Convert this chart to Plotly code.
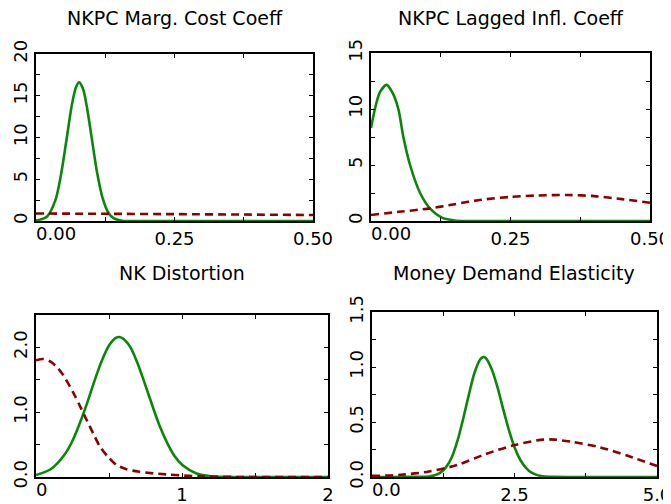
import plotly.graph_objects as go

# ---------------- data ----------------
titles = ["NKPC Marg. Cost Coeff", "NKPC Lagged Infl. Coeff",
          "NK Distortion", "Money Demand Elasticity"]

# Panel 1: NKPC marginal cost coefficient
p1_post_x = [0.000, 0.020, 0.035, 0.045, 0.055, 0.065, 0.072, 0.078, 0.085,
             0.092, 0.100, 0.110, 0.120, 0.130, 0.140, 0.155, 0.175, 0.300, 0.500]
p1_post_y = [0.04, 0.55, 2.5, 5.5, 9.7, 14.0, 16.0, 16.6, 15.8,
             13.6, 10.2, 5.9, 2.8, 1.07, 0.34, 0.04, 0.0, 0.0, 0.0]
p1_prior_x = [0.0, 0.125, 0.25, 0.375, 0.5]
p1_prior_y = [0.90, 0.86, 0.82, 0.77, 0.72]

# Panel 2: NKPC lagged inflation coefficient
p2_post_x = [0.000, 0.008, 0.016, 0.028, 0.038, 0.049, 0.058, 0.070, 0.088,
             0.106, 0.127, 0.150, 0.175, 0.300, 0.500]
p2_post_y = [8.3, 10.2, 11.5, 12.15, 11.5, 10.0, 7.5, 5.0, 2.5,
             1.1, 0.3, 0.05, 0.0, 0.0, 0.0]
p2_prior_x = [0.0, 0.05, 0.106, 0.15, 0.198, 0.25, 0.30, 0.353, 0.40, 0.45, 0.50]
p2_prior_y = [0.54, 0.82, 1.13, 1.50, 1.90, 2.15, 2.28, 2.32, 2.22, 1.95, 1.63]

# Panel 3: NK distortion
p3_post_x = [0.0, 0.1, 0.2, 0.25, 0.3, 0.35, 0.4, 0.45, 0.5, 0.55, 0.57, 0.6,
             0.65, 0.7, 0.75, 0.8, 0.85, 0.9, 0.95, 1.0, 1.1, 1.2, 1.4, 2.0]
p3_post_y = [0.03, 0.12, 0.36, 0.56, 0.83, 1.14, 1.48, 1.79, 2.03, 2.15, 2.16, 2.13,
             1.99, 1.73, 1.41, 1.08, 0.77, 0.52, 0.32, 0.19, 0.054, 0.012, 0.0, 0.0]
p3_prior_x = [0.0, 0.05, 0.10, 0.15, 0.19, 0.256, 0.30, 0.336, 0.39, 0.438,
              0.49, 0.548, 0.62, 0.708, 0.89, 1.12, 1.40, 2.0]
p3_prior_y = [1.80, 1.82, 1.78, 1.68, 1.56, 1.30, 1.10, 0.93, 0.68, 0.47,
              0.32, 0.19, 0.12, 0.08, 0.04, 0.01, 0.0, 0.0]

# Panel 4: money demand elasticity
p4_post_x = [0.0, 0.8, 1.0, 1.1, 1.2, 1.3, 1.4, 1.5, 1.6, 1.7, 1.8, 1.9, 1.95,
             2.0, 2.1, 2.2, 2.3, 2.4, 2.5, 2.6, 2.7, 2.8, 2.9, 3.0, 3.2, 3.5, 5.0]
p4_post_y = [0.0, 0.001, 0.005, 0.015, 0.04, 0.09, 0.18, 0.33, 0.53, 0.75, 0.95, 1.07, 1.09,
             1.08, 0.98, 0.82, 0.62, 0.43, 0.27, 0.157, 0.083, 0.039, 0.017, 0.007, 0.001, 0.0, 0.0]
p4_prior_x = [0.0, 0.5, 1.0, 1.5, 2.0, 2.5, 3.0, 3.2, 3.5, 4.0, 4.5, 5.0]
p4_prior_y = [0.01, 0.02, 0.05, 0.11, 0.21, 0.29, 0.34, 0.34, 0.32, 0.27, 0.19, 0.10]

# tick values / labels
p1_xticks = [0.0, 0.125, 0.25, 0.375, 0.5]
p1_xlabels = ["0.00", "", "0.25", "", "0.50"]
p1_yticks = [0, 2.5, 5, 7.5, 10, 12.5, 15, 17.5, 20]
p1_ylabels = ["0", "", "5", "", "10", "", "15", "", "20"]
p2_xticks = [0.0, 0.125, 0.25, 0.375, 0.5]
p2_xlabels = ["0.00", "", "0.25", "", "0.50"]
p2_yticks = [0, 2.5, 5, 7.5, 10, 12.5, 15]
p2_ylabels = ["0", "", "5", "", "10", "", "15"]
p3_xticks = [0, 0.5, 1, 1.5, 2]
p3_xlabels = ["0", "", "1", "", "2"]
p3_yticks = [0, 0.5, 1.0, 1.5, 2.0, 2.5]
p3_ylabels = ["0.0", "", "1.0", "", "2.0", ""]
p4_xticks = [0, 1.25, 2.5, 3.75, 5]
p4_xlabels = ["0.0", "", "2.5", "", "5.0"]
p4_yticks = [0, 0.25, 0.5, 0.75, 1.0, 1.25, 1.5]
p4_ylabels = ["0.0", "", "0.5", "", "1.0", "", "1.5"]

# ---------------- figure ----------------
# the page body adds an 8px margin, so lay out in page pixels minus OFF
OFF = 8
W, H = 671 - OFF, 504 - OFF
GREEN = "#0a870a"
RED = "#8b0000"
FONT = "DejaVu Sans"

panels = [
    dict(post=(p1_post_x, p1_post_y), prior=(p1_prior_x, p1_prior_y),
         xr=[0, 0.5], yr=[0, 20], xt=(p1_xticks, p1_xlabels), yt=(p1_yticks, p1_ylabels),
         box=(36, 313, 54, 221), ty=18),
    dict(post=(p2_post_x, p2_post_y), prior=(p2_prior_x, p2_prior_y),
         xr=[0, 0.5], yr=[0, 15], xt=(p2_xticks, p2_xlabels), yt=(p2_yticks, p2_ylabels),
         box=(371, 650, 53, 221), ty=18),
    dict(post=(p3_post_x, p3_post_y), prior=(p3_prior_x, p3_prior_y),
         xr=[0, 2], yr=[0, 2.5], xt=(p3_xticks, p3_xlabels), yt=(p3_yticks, p3_ylabels),
         box=(36, 328, 315, 477), ty=273),
    dict(post=(p4_post_x, p4_post_y), prior=(p4_prior_x, p4_prior_y),
         xr=[0, 5], yr=[0, 1.5], xt=(p4_xticks, p4_xlabels), yt=(p4_yticks, p4_ylabels),
         box=(372, 657, 312, 477), ty=273),
]

fig = go.Figure()
layout = dict(width=W, height=H, margin=dict(l=0, r=0, t=0, b=0, pad=0, autoexpand=False),
              paper_bgcolor="white", plot_bgcolor="white", showlegend=False,
              font=dict(family=FONT, size=18, color="black"))
annotations = []

for i, p in enumerate(panels, start=1):
    xa = "x" if i == 1 else f"x{i}"
    ya = "y" if i == 1 else f"y{i}"
    fig.add_trace(go.Scatter(x=p["post"][0], y=p["post"][1], mode="lines",
                             line=dict(color=GREEN, width=2.6, shape="spline", smoothing=0.8),
                             xaxis=xa, yaxis=ya, hoverinfo="skip"))
    fig.add_trace(go.Scatter(x=p["prior"][0], y=p["prior"][1], mode="lines",
                             line=dict(color=RED, width=2.6, dash="8px,5px", shape="spline",
                                       smoothing=0.8),
                             xaxis=xa, yaxis=ya, hoverinfo="skip"))
    # empty trace that registers the overlay axis holding the first x label
    fig.add_trace(go.Scatter(x=[], y=[], mode="lines", xaxis=f"x{i + 4}", yaxis=ya,
                             hoverinfo="skip"))
    x0, x1, y0, y1 = [v - OFF for v in p["box"]]
    xlabels = list(p["xt"][1])
    first_label = xlabels[0]
    xlabels[0] = ""
    common = dict(showgrid=False, zeroline=False, showline=True, linecolor="black",
                  linewidth=2, mirror="ticks", ticks="inside", ticklen=4, tickwidth=1,
                  tickcolor="black", tickmode="array", tickfont=dict(family=FONT, size=18),
                  fixedrange=True, automargin=False, ticklabeloverflow="allow")
    dom_x = [x0 / W, x1 / W]
    layout["xaxis" if i == 1 else f"xaxis{i}"] = dict(
        common, domain=dom_x, range=p["xr"], anchor=ya,
        tickvals=p["xt"][0], ticktext=xlabels, tickangle=0)
    # overlay axis carrying only the first tick label, left-aligned on its tick
    layout[f"xaxis{i + 4}"] = dict(
        showgrid=False, zeroline=False, showline=False, ticks="", tickmode="array",
        tickvals=[p["xt"][0][0]], ticktext=[first_label], tickangle=0,
        tickfont=dict(family=FONT, size=18), ticklabelposition="outside right",
        fixedrange=True, automargin=False, ticklabeloverflow="allow",
        domain=dom_x, range=p["xr"], anchor=ya, overlaying=xa, side="bottom")
    layout["yaxis" if i == 1 else f"yaxis{i}"] = dict(
        common, domain=[1 - y1 / H, 1 - y0 / H], range=p["yr"], anchor=xa,
        tickvals=p["yt"][0], ticktext=p["yt"][1], tickangle=-90)
    annotations.append(dict(text=titles[i - 1], xref="paper", yref="paper",
                            x=(x0 + x1) / 2 / W, y=1 - (p["ty"] - OFF) / H, xanchor="center",
                            yanchor="middle", showarrow=False,
                            font=dict(family=FONT, size=19, color="black")))

layout["annotations"] = annotations
fig.update_layout(**layout)
fig.write_html("out.html")
